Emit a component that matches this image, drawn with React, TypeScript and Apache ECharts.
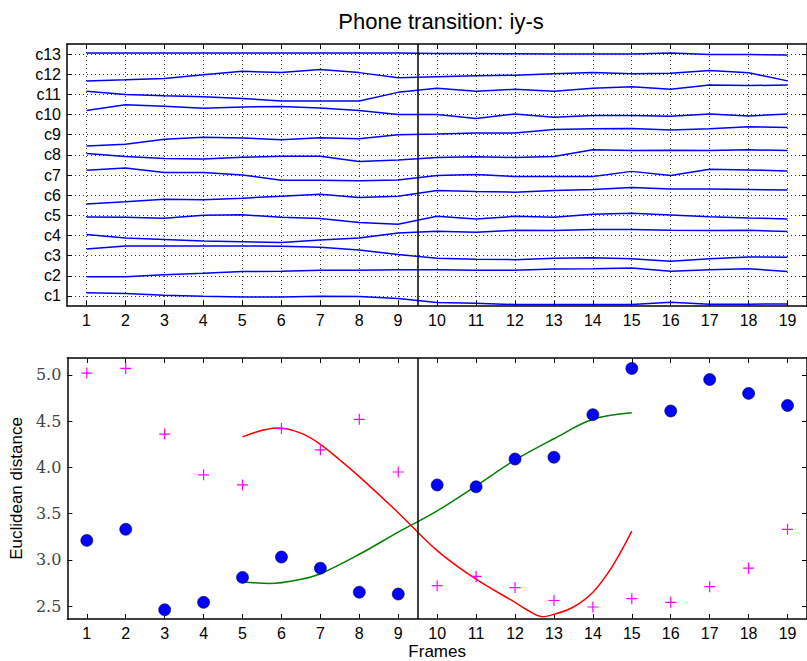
import React, { useEffect, useRef } from "react";
import * as echarts from "echarts";

const frames = [1, 2, 3, 4, 5, 6, 7, 8, 9, 10, 11, 12, 13, 14, 15, 16, 17, 18, 19];
const coefLabels = ["c1", "c2", "c3", "c4", "c5", "c6", "c7", "c8", "c9", "c10", "c11", "c12", "c13"];
const coefLevels = [1, 2, 3, 4, 5, 6, 7, 8, 9, 10, 11, 12, 13];

const c1 = [1.16, 1.12, 1.03, 0.98, 0.95, 0.95, 0.98, 0.97, 0.87, 0.67, 0.64, 0.57, 0.57, 0.57, 0.57, 0.69, 0.59, 0.59, 0.6];
const c2 = [1.95, 1.95, 2.05, 2.12, 2.21, 2.23, 2.28, 2.28, 2.3, 2.3, 2.28, 2.28, 2.33, 2.35, 2.38, 2.23, 2.3, 2.35, 2.21];
const c3 = [3.33, 3.48, 3.48, 3.48, 3.48, 3.46, 3.41, 3.28, 3.05, 2.87, 2.82, 2.8, 2.87, 2.9, 2.85, 2.72, 2.84, 2.93, 2.92];
const c4 = [4.05, 3.88, 3.8, 3.72, 3.69, 3.65, 3.77, 3.87, 4.12, 4.21, 4.16, 4.26, 4.25, 4.3, 4.3, 4.26, 4.25, 4.26, 4.2];
const c5 = [4.92, 4.9, 4.85, 5.0, 5.03, 4.9, 4.84, 4.64, 4.56, 4.95, 4.82, 4.95, 4.9, 5.05, 5.1, 5.02, 4.93, 4.87, 4.82];
const c6 = [5.56, 5.67, 5.8, 5.77, 5.85, 5.95, 6.05, 5.88, 5.95, 6.23, 6.18, 6.15, 6.23, 6.28, 6.38, 6.31, 6.3, 6.28, 6.25];
const c7 = [7.23, 7.35, 7.13, 7.12, 7.0, 6.74, 6.74, 6.72, 6.75, 6.98, 7.02, 6.92, 6.92, 6.93, 7.18, 6.98, 7.28, 7.25, 7.2];
const c8 = [8.07, 7.92, 7.82, 7.79, 7.88, 7.93, 7.93, 7.67, 7.74, 7.87, 7.9, 7.87, 7.92, 8.25, 8.21, 8.23, 8.21, 8.25, 8.21];
const c9 = [8.44, 8.52, 8.77, 8.87, 8.84, 8.75, 8.85, 8.8, 9.0, 9.03, 9.08, 9.08, 9.26, 9.3, 9.31, 9.23, 9.3, 9.4, 9.36];
const c10 = [10.2, 10.48, 10.41, 10.31, 10.38, 10.4, 10.33, 10.2, 10.0, 10.0, 9.8, 10.03, 9.87, 9.95, 9.95, 9.92, 10.03, 9.93, 10.03];
const c11 = [11.16, 11.0, 10.93, 10.88, 10.8, 10.67, 10.67, 10.67, 11.1, 11.3, 11.16, 11.25, 11.16, 11.31, 11.38, 11.26, 11.46, 11.44, 11.46];
const c12 = [11.67, 11.72, 11.79, 11.97, 12.15, 12.08, 12.23, 12.08, 11.82, 11.87, 11.92, 11.95, 12.02, 12.08, 12.03, 12.05, 12.18, 12.07, 11.67];
const c13 = [13.05, 13.05, 13.05, 13.05, 13.05, 13.05, 13.05, 13.05, 13.05, 13.03, 13.03, 13.02, 13.0, 13.0, 13.0, 13.05, 12.98, 12.98, 12.95];
const coefSeries = [c1, c2, c3, c4, c5, c6, c7, c8, c9, c10, c11, c12, c13];

const distLeft = [3.21, 3.33, 2.46, 2.54, 2.81, 3.03, 2.91, 2.65, 2.63, 3.81, 3.79, 4.09, 4.11, 4.57, 5.07, 4.61, 4.95, 4.8, 4.67];
const distRight = [5.02, 5.07, 4.36, 3.92, 3.81, 4.42, 4.19, 4.52, 3.95, 2.72, 2.82, 2.7, 2.56, 2.49, 2.58, 2.54, 2.71, 2.91, 3.33];

const greenX = [5, 5.7, 6.5, 7, 8, 9, 10, 11, 12, 13, 14, 15];
const greenY = [2.76, 2.745, 2.79, 2.85, 3.06, 3.3, 3.53, 3.8, 4.08, 4.31, 4.52, 4.59];
const redX = [5, 5.9, 6.5, 7, 7.5, 8, 9, 10, 11, 12, 12.3, 12.7, 13, 13.5, 14, 14.5, 15];
const redY = [4.33, 4.425, 4.37, 4.25, 4.08, 3.9, 3.51, 3.1, 2.79, 2.54, 2.46, 2.385, 2.41, 2.49, 2.65, 2.93, 3.31];

const distTicks = [2.5, 3.0, 3.5, 4.0, 4.5, 5.0];
const boundary = 9.5;

const SANS = "Liberation Sans";

export default function App() {
  const ref = useRef<HTMLDivElement>(null);
  useEffect(() => {
    if (!ref.current) return;
    const chart = echarts.init(ref.current, undefined, { renderer: "svg" });
    const zip = (xs: number[], ys: number[]) => xs.map((x, i) => [x, ys[i]]);
    const dotted = { show: true, lineStyle: { color: "#333", width: 1, type: [1, 3] as any } };
    const frameLine = { show: true, onZero: false, lineStyle: { color: "#000", width: 1.5 } };
    const tick = (vals: number[]) => ({ show: true, inside: true, length: 5, customValues: vals, lineStyle: { color: "#000", width: 1 } });
    const vline = {
      silent: true,
      symbol: "none",
      label: { show: false },
      lineStyle: { color: "#000", width: 1.5, type: "solid" },
      data: [{ xAxis: boundary }],
    };

    const series: any[] = coefSeries.map((arr, i) => ({
      type: "line",
      xAxisIndex: 0,
      yAxisIndex: 0,
      data: zip(frames, arr),
      showSymbol: false,
      symbol: "none",
      lineStyle: { color: "#0000ff", width: 1.5 },
      z: 3,
      ...(i === 0 ? { markLine: vline } : {}),
    }));
    series.push(
      {
        type: "line",
        xAxisIndex: 2,
        yAxisIndex: 2,
        data: zip(greenX, greenY),
        smooth: 0.35,
        showSymbol: false,
        symbol: "none",
        lineStyle: { color: "#008000", width: 1.5 },
        markLine: vline,
      },
      {
        type: "line",
        xAxisIndex: 2,
        yAxisIndex: 2,
        data: zip(redX, redY),
        smooth: 0.35,
        showSymbol: false,
        symbol: "none",
        lineStyle: { color: "#ff0000", width: 1.5 },
      },
      {
        type: "scatter",
        xAxisIndex: 2,
        yAxisIndex: 2,
        data: zip(frames, distLeft),
        symbol: "circle",
        symbolSize: 12,
        itemStyle: { color: "#0000ff", borderColor: "#000033", borderWidth: 0.6, opacity: 1 },
        z: 5,
      },
      {
        type: "scatter",
        xAxisIndex: 2,
        yAxisIndex: 2,
        data: zip(frames, distRight),
        symbol: "path://M4.45,0H5.55V4.45H10V5.55H5.55V10H4.45V5.55H0V4.45H4.45Z",
        symbolSize: 11,
        itemStyle: { color: "#ff00ff", opacity: 1 },
        z: 5,
      }
    );

    const xLabel = {
      show: true,
      customValues: frames,
      color: "#000",
      fontFamily: SANS,
      fontSize: 16,
      margin: 6,
    };

    chart.setOption({
      animation: false,
      backgroundColor: "#fff",
      title: {
        text: "Phone transition: iy-s",
        left: 436,
        top: 5,
        textAlign: "center",
        textStyle: { fontFamily: SANS, fontSize: 22, fontWeight: "normal", color: "#000" },
      },
      grid: [
        { left: 67, right: -4, top: 44, height: 262 },
        { left: 67, right: -4, top: 358, height: 262 },
      ],
      xAxis: [
        { gridIndex: 0, type: "value", position: "bottom", min: 0.5, max: 19.5, axisLine: frameLine, axisTick: tick(frames), axisLabel: xLabel, splitLine: dotted },
        { gridIndex: 0, type: "value", position: "top", min: 0.5, max: 19.5, axisLine: frameLine, axisTick: tick(frames), axisLabel: { show: false }, splitLine: { show: false } },
        {
          gridIndex: 1, type: "value", position: "bottom", min: 0.5, max: 19.5, axisLine: frameLine, axisTick: tick(frames), axisLabel: xLabel, splitLine: { show: false },
          name: "Frames", nameLocation: "middle", nameGap: 24,
          nameTextStyle: { fontFamily: SANS, fontSize: 17, color: "#000" },
        },
        { gridIndex: 1, type: "value", position: "top", min: 0.5, max: 19.5, axisLine: frameLine, axisTick: tick(frames), axisLabel: { show: false }, splitLine: { show: false } },
      ],
      yAxis: [
        {
          gridIndex: 0, type: "value", position: "left", min: 0.5, max: 13.5, axisLine: frameLine, axisTick: tick(coefLevels),
          axisLabel: { show: true, customValues: coefLevels, formatter: (v: number) => coefLabels[Math.round(v) - 1], color: "#000", fontFamily: SANS, fontSize: 16, margin: 6 },
          splitLine: dotted,
        },
        { gridIndex: 0, type: "value", position: "right", min: 0.5, max: 13.5, axisLine: frameLine, axisTick: tick(coefLevels), axisLabel: { show: false }, splitLine: { show: false } },
        {
          gridIndex: 1, type: "value", position: "left", min: 2.36, max: 5.183, axisLine: frameLine, axisTick: tick(distTicks),
          axisLabel: { show: true, customValues: distTicks, formatter: (v: number) => v.toFixed(1), color: "#444", fontFamily: "DejaVu Serif", fontSize: 16, margin: 6 },
          splitLine: { show: false },
          name: "Euclidean distance", nameLocation: "middle", nameGap: 41, nameRotate: 90,
          nameTextStyle: { fontFamily: SANS, fontSize: 17, color: "#000" },
        },
        { gridIndex: 1, type: "value", position: "right", min: 2.36, max: 5.183, axisLine: frameLine, axisTick: tick(distTicks), axisLabel: { show: false }, splitLine: { show: false } },
      ],
      series,
    });
    return () => chart.dispose();
  }, []);
  return <div ref={ref} style={{ position: "absolute", left: 0, top: 0, width: 807, height: 661 }} />;
}
